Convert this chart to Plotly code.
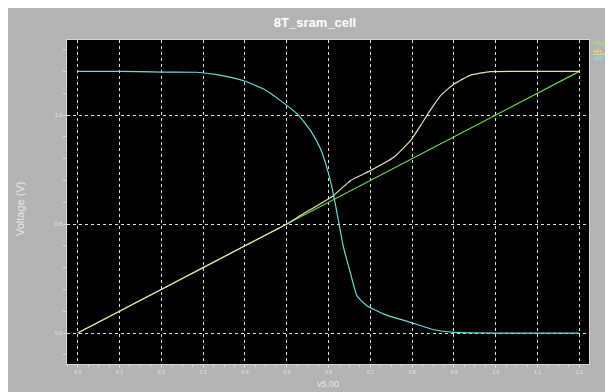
import plotly.graph_objects as go

# Data
vin_x = [0.0, 0.3, 0.6, 0.9, 1.2]
vin_y = [0.0, 0.3, 0.6, 0.9, 1.2]

q_x = [0.0, 0.1, 0.2, 0.3, 0.4, 0.5, 0.532, 0.6115, 0.652, 0.70, 0.756, 0.796, 0.82, 0.84, 0.868, 0.9, 0.94, 0.987, 1.1, 1.2]
q_y = [0.0, 0.1, 0.2, 0.3, 0.4, 0.5, 0.538, 0.63, 0.699, 0.745, 0.806, 0.882, 0.951, 1.012, 1.089, 1.142, 1.183, 1.199, 1.2, 1.2]

qb_x = [0.0, 0.1, 0.2, 0.285, 0.333, 0.397, 0.445, 0.485, 0.525, 0.557, 0.581, 0.597, 0.609, 0.623, 0.635, 0.652, 0.668, 0.692, 0.732, 0.796, 0.852, 0.9, 1.0, 1.1, 1.2]
qb_y = [1.2, 1.2, 1.197, 1.196, 1.185, 1.157, 1.119, 1.066, 1.005, 0.928, 0.844, 0.752, 0.66, 0.523, 0.40, 0.278, 0.171, 0.125, 0.087, 0.049, 0.015, 0.003, 0.0, 0.0, 0.0]

legend_names = ["v(in)", "<u>v(n_a)</u>", "v(b)"]
colors = ["#6fd64a", "#e4e0b4", "#6fdada"]
legend_colors = ["#7dff4a", "#fff060", "#6ff0f0"]

# page offset of the figure inside the browser (body margin)
OX, OY = 8, 9
W, H = 613, 392
L, R, T, B = 67 - OX, 613 - (589 - OX), 41 - OY, 392 - (365 - OY)
pw, ph = W - L - R, H - T - B

def px(x):
    return (x - OX - L) / pw

def py(y):
    return (H - B - (y - OY)) / ph

fig = go.Figure()
fig.add_trace(go.Scatter(x=vin_x, y=vin_y, mode="lines", line=dict(color=colors[0], width=1.2), name="v(in)"))
fig.add_trace(go.Scatter(x=q_x, y=q_y, mode="lines", line=dict(color=colors[1], width=1.2, shape="spline", smoothing=0.4), name="v(n_a)"))
fig.add_trace(go.Scatter(x=qb_x, y=qb_y, mode="lines", line=dict(color=colors[2], width=1.2, shape="spline", smoothing=0.5), name="v(b)"))

tickfont = dict(family="Liberation Sans", size=5, color="#e6e6e6")
fig.update_layout(
    width=W, height=H,
    margin=dict(l=L, r=R, t=T, b=B),
    paper_bgcolor="#b3b3b3",
    plot_bgcolor="#000000",
    showlegend=False,
    title=dict(text="<b>8T_sram_cell</b>", x=(315 - OX) / W, xanchor="center", y=1 - (23 - OY) / H, yanchor="middle",
               font=dict(family="Liberation Sans", size=13, color="#ffffff")),
    xaxis=dict(range=[-0.0256, 1.223], dtick=0.1, tick0=0, tickformat=".1f",
               showgrid=True, gridcolor="#e0e0e0", griddash="3px,3px", gridwidth=1,
               zeroline=False, showline=True, linecolor="#d8d8d8", linewidth=1, mirror=True,
               ticks="outside", ticklen=3, tickcolor="#d8d8d8", tickfont=tickfont,
               minor=dict(dtick=0.025, ticks="outside", ticklen=2, tickcolor="#d8d8d8", showgrid=False)),
    yaxis=dict(range=[-0.142, 1.344], dtick=0.5, tick0=0, tickformat=".1f",
               showgrid=True, gridcolor="#e0e0e0", griddash="3px,3px", gridwidth=1,
               zeroline=False, showline=True, linecolor="#d8d8d8", linewidth=1, mirror=True,
               ticks="outside", ticklen=3, tickcolor="#d8d8d8", tickfont=tickfont,
               minor=dict(dtick=0.1, ticks="outside", ticklen=3, tickcolor="#d8d8d8", showgrid=False)),
    annotations=[
        dict(text="Voltage (V)", xref="paper", yref="paper", x=px(20), y=py(210), textangle=-90,
             showarrow=False, font=dict(family="Liberation Sans", size=11, color="#e8e8e8"),
             xanchor="center", yanchor="middle"),
        dict(text="v5.00", xref="paper", yref="paper", x=px(328), y=py(385),
             showarrow=False, font=dict(family="Liberation Sans", size=9, color="#e8e8e8"),
             xanchor="center", yanchor="middle"),
    ] + [
        dict(text=legend_names[i], xref="paper", yref="paper", x=px(591), y=py(44 + 7.5 * i),
             showarrow=False, font=dict(family="Liberation Sans", size=6, color=legend_colors[i]),
             xanchor="left", yanchor="middle")
        for i in range(3)
    ],
)

fig.write_html("out.html")
